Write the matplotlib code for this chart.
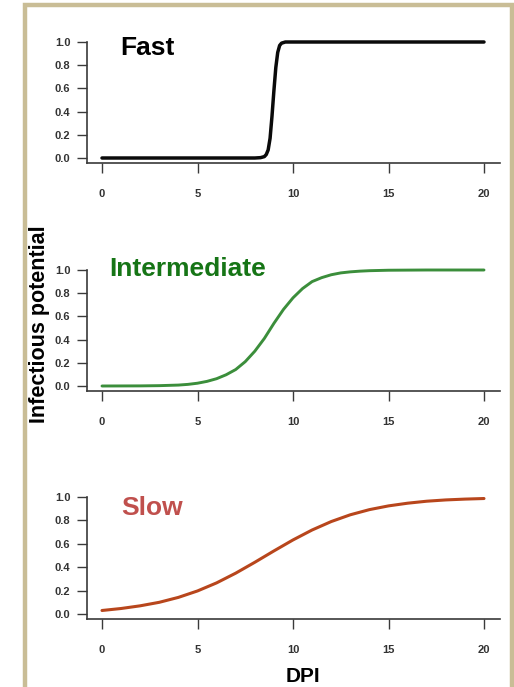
import matplotlib
matplotlib.use("Agg")
import matplotlib.pyplot as plt
from matplotlib.patches import Rectangle

plt.rcParams['font.family'] = ['Liberation Sans', 'DejaVu Sans']

# ---- data ----
fast_dpi = [0, 2, 4, 6, 8, 8.3, 8.5, 8.6, 8.7, 8.8, 8.9, 9.0, 9.1, 9.2, 9.3, 9.4, 9.6, 10, 12, 15, 20]
fast_val = [0, 0, 0, 0, 0.0, 0.003, 0.012, 0.03, 0.07, 0.17, 0.36, 0.58, 0.78, 0.91, 0.97, 0.99, 1.0, 1.0, 1.0, 1.0, 1.0]

inter_dpi = [0, 1, 2, 3, 4, 4.5, 5, 5.5, 6, 6.5, 7, 7.5, 8, 8.5, 9, 9.5, 10, 10.5, 11, 11.5,
             12, 12.5, 13, 13.5, 14, 14.5, 15, 16, 17, 18, 20]
inter_val = [0.0, 0.0005, 0.001, 0.003, 0.008, 0.014, 0.024, 0.04, 0.063, 0.097, 0.142, 0.21,
             0.30, 0.41, 0.54, 0.66, 0.76, 0.84, 0.90, 0.934, 0.959, 0.975, 0.984, 0.990,
             0.994, 0.996, 0.998, 0.999, 1.0, 1.0, 1.0]

slow_dpi = list(range(0, 21))
slow_val = [0.03, 0.047, 0.07, 0.10, 0.142, 0.197, 0.266, 0.349, 0.442, 0.539, 0.633,
            0.718, 0.790, 0.848, 0.892, 0.924, 0.947, 0.964, 0.975, 0.982, 0.987]

titles = ["Fast", "Intermediate", "Slow"]
title_colors = ["#000000", "#167516", "#c0504d"]
line_colors = ["#0a0a0a", "#3b8e3b", "#b8461c"]
line_widths = [2.5, 2.1, 2.2]
xticks = [0, 5, 10, 15, 20]
yticks = [0.0, 0.2, 0.4, 0.6, 0.8, 1.0]
xlabel = "DPI"
ylabel = "Infectious potential"

W, H = 514, 687
fig = plt.figure(figsize=(W / 100, H / 100), dpi=100)

# frame
fig.patches.append(Rectangle((24.5 / W, -0.05), (511.5 - 24.5) / W, (H - 4.5) / H + 0.05,
                             transform=fig.transFigure, fill=False,
                             edgecolor="#c9bd96", linewidth=3.2))

# axes geometry in pixels: (bottom line y, y at value 0, px per unit)
panels = [(163, 158, 116), (391, 386, 116), (619, 614, 117)]
series = [(fast_dpi, fast_val), (inter_dpi, inter_val), (slow_dpi, slow_val)]
title_pos = [(120, 55), (109, 276), (121, 515)]

xl, xr = 87, 500
x0px, per_x = 102, 19.1
xlim = ((xl - x0px) / per_x, (xr - x0px) / per_x)

for i, ((ybot, y0, per_y), (xd, yd)) in enumerate(zip(panels, series)):
    ylo = -(ybot - y0) / per_y
    yhi = 1.06
    height = (yhi - ylo) * per_y
    ax = fig.add_axes([xl / W, (H - ybot) / H, (xr - xl) / W, height / H])
    ax.plot(xd, yd, color=line_colors[i], linewidth=line_widths[i], solid_capstyle='round',
            solid_joinstyle='round')
    ax.set_xlim(*xlim)
    ax.set_ylim(ylo, yhi)
    for s in ["top", "right"]:
        ax.spines[s].set_visible(False)
    ax.spines["left"].set_bounds(ylo, 1.0)
    for s in ["left", "bottom"]:
        ax.spines[s].set_color("#3a3a3a")
        ax.spines[s].set_linewidth(1.2)
    ax.set_xticks(xticks)
    ax.set_xticklabels([str(t) for t in xticks], fontsize=8, fontweight='bold', color="#333333")
    ax.set_yticks(yticks)
    ax.set_yticklabels([f"{t:.1f}" for t in yticks], fontsize=8, fontweight='bold', color="#333333")
    ax.tick_params(axis='y', length=7, width=1.0, color="#3a3a3a", pad=5)
    ax.tick_params(axis='x', length=7, width=1.0, color="#3a3a3a", pad=12)
    ax.patch.set_alpha(0)
    tx, ty = title_pos[i]
    fig.text(tx / W, 1 - ty / H, titles[i], fontsize=19, fontweight='bold',
             color=title_colors[i], ha='left', va='baseline')

fig.text(303 / W, 1 - 682 / H, xlabel, fontsize=15, fontweight='bold', ha='center', va='baseline')
fig.text(40 / W, 1 - 324 / H, ylabel, fontsize=15.5, fontweight='bold', ha='center', va='center',
         rotation=90)

fig.savefig("out.png", dpi=100, facecolor="white")
